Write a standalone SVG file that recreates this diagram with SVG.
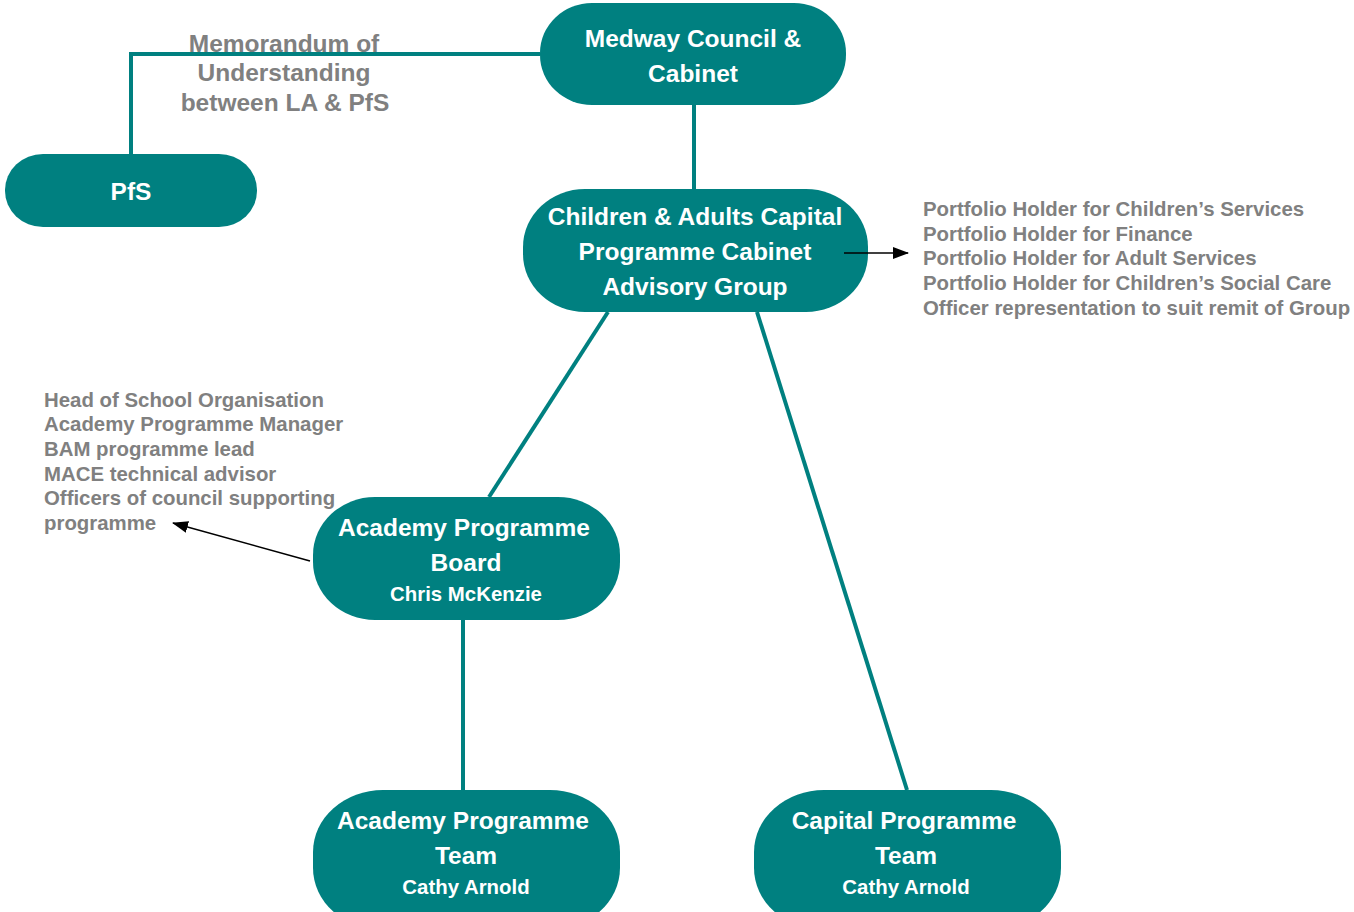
<svg xmlns="http://www.w3.org/2000/svg" width="1354" height="912" viewBox="0 0 1354 912">
<style>
.node{fill:#008080}
.t{font-family:"Liberation Sans",Arial,sans-serif;font-weight:bold;fill:#ffffff;text-anchor:middle;font-size:24.5px}
.s{font-family:"Liberation Sans",Arial,sans-serif;font-weight:bold;fill:#ffffff;text-anchor:middle;font-size:20.4px}
.g{font-family:"Liberation Sans",Arial,sans-serif;font-weight:bold;fill:#808080;font-size:20.4px}
.m{font-family:"Liberation Sans",Arial,sans-serif;font-weight:bold;fill:#808080;font-size:24.5px;text-anchor:middle}
.c{stroke:#008080;stroke-width:4;fill:none}
.a{stroke:#000000;stroke-width:1.6;fill:none;marker-end:url(#ah)}
</style>
<defs>
<marker id="ah" markerWidth="16" markerHeight="12" refX="15" refY="6" orient="auto" markerUnits="userSpaceOnUse">
<path d="M0,0 L16,6 L0,12 Z" fill="#000000"/>
</marker>
</defs>
<rect width="1354" height="912" fill="#ffffff"/>
<g id="medway">
<rect class="node" x="540" y="3" width="306" height="102" rx="52" ry="50"/>
<text class="t" x="693" y="47">Medway Council &amp;</text>
<text class="t" x="693" y="82">Cabinet</text>
</g>
<g id="pfs">
<rect class="node" x="5" y="154" width="252" height="73" rx="38" ry="36"/>
<text class="t" x="131" y="200">PfS</text>
</g>
<g id="advisory">
<rect class="node" x="523" y="189" width="345" height="123" rx="62" ry="58"/>
<text class="t" x="695" y="225">Children &amp; Adults Capital</text>
<text class="t" x="695" y="260">Programme Cabinet</text>
<text class="t" x="695" y="295">Advisory Group</text>
</g>
<g id="advisory-members">
<text class="g" x="923" y="216">Portfolio Holder for Children’s Services</text>
<text class="g" x="923" y="241">Portfolio Holder for Finance</text>
<text class="g" x="923" y="265">Portfolio Holder for Adult Services</text>
<text class="g" x="923" y="290">Portfolio Holder for Children’s Social Care</text>
<text class="g" x="923" y="315">Officer representation to suit remit of Group</text>
</g>
<g id="board">
<rect class="node" x="313" y="497" width="307" height="123" rx="62" ry="58"/>
<text class="t" x="464" y="536">Academy Programme</text>
<text class="t" x="466" y="571">Board</text>
<text class="s" x="466" y="601">Chris McKenzie</text>
</g>
<g id="board-members">
<text class="g" x="44" y="407">Head of School Organisation</text>
<text class="g" x="44" y="431">Academy Programme Manager</text>
<text class="g" x="44" y="456">BAM programme lead</text>
<text class="g" x="44" y="481">MACE technical advisor</text>
<text class="g" x="44" y="505">Officers of council supporting</text>
<text class="g" x="44" y="530">programme</text>
</g>
<g id="academy-team">
<rect class="node" x="313" y="790" width="307" height="140" rx="70" ry="62"/>
<text class="t" x="463" y="829">Academy Programme</text>
<text class="t" x="466" y="864">Team</text>
<text class="s" x="466" y="894">Cathy Arnold</text>
</g>
<g id="capital-team">
<rect class="node" x="754" y="790" width="307" height="140" rx="70" ry="62"/>
<text class="t" x="904" y="829">Capital Programme</text>
<text class="t" x="906" y="864">Team</text>
<text class="s" x="906" y="894">Cathy Arnold</text>
</g>
<g id="connectors">
<polyline class="c" points="540,54 131,54 131,154" stroke="#1a9898"/>
<line class="c" x1="694" y1="105" x2="694" y2="189"/>
<line class="c" x1="608" y1="312" x2="489" y2="497"/>
<line class="c" x1="757" y1="312" x2="907" y2="790"/>
<line class="c" x1="463" y1="620" x2="463" y2="790"/>
<line class="a" x1="844" y1="253" x2="908" y2="253"/>
<line class="a" x1="310" y1="561" x2="173" y2="523"/>
</g>
<g id="mou-label">
<text class="m" x="284" y="52">Memorandum of</text>
<text class="m" x="284" y="81">Understanding</text>
<text class="m" x="285" y="111">between LA &amp; PfS</text>
</g>
</svg>
